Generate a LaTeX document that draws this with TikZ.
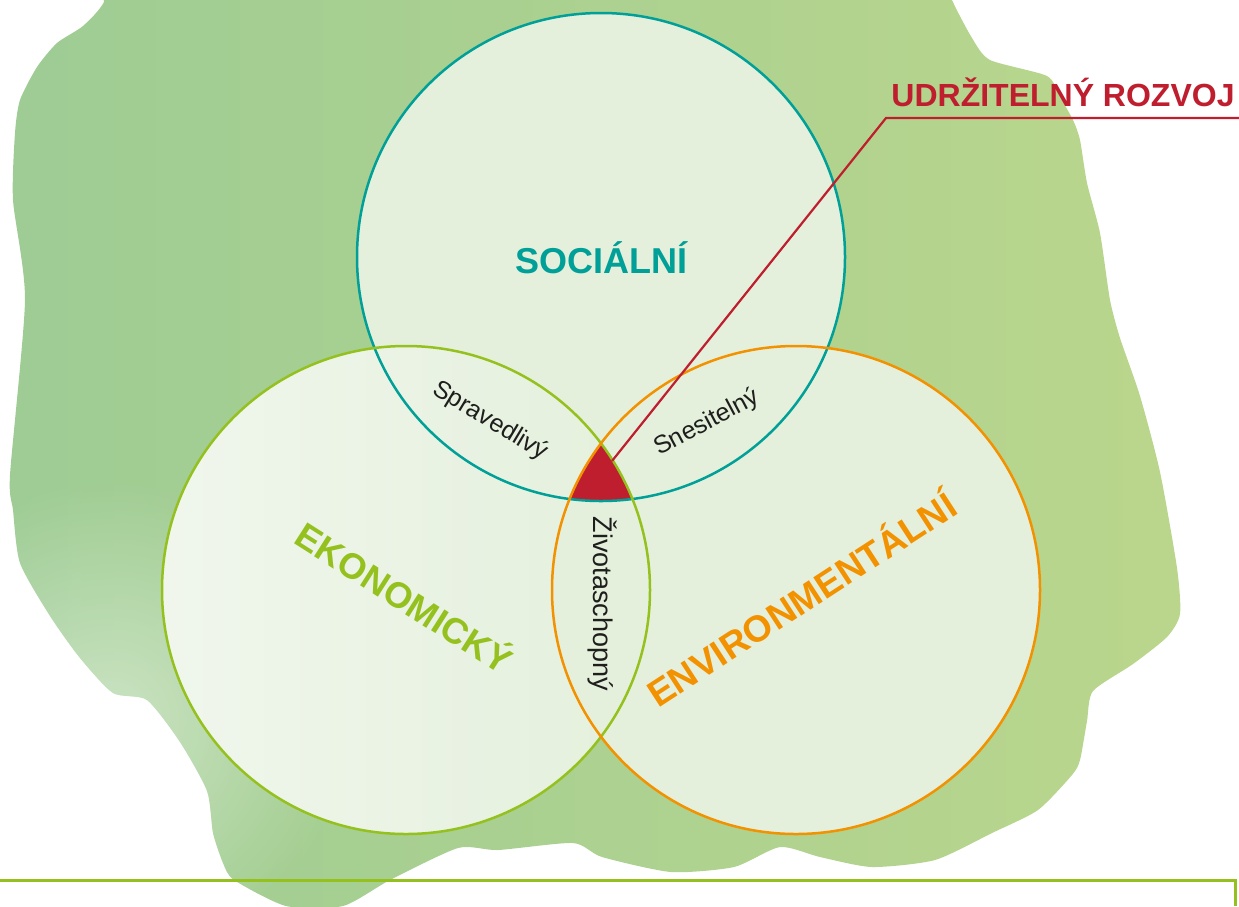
\documentclass[tikz,border=0pt]{standalone}
\usepackage{fontspec}
\setmainfont{Liberation Sans}
\usetikzlibrary{fadings}
\tikzfading[name=softfade, inner color=transparent!0, outer color=transparent!100]
\definecolor{cSoc}{RGB}{0,160,152}
\definecolor{cEko}{RGB}{149,193,31}
\definecolor{cEnv}{RGB}{243,146,0}
\definecolor{cRed}{RGB}{190,30,45}
\definecolor{cFill}{RGB}{228,240,220}
\definecolor{cFillW}{RGB}{240,246,236}
\definecolor{cBlobL}{RGB}{158,204,148}
\definecolor{cBlobR}{RGB}{186,214,140}
\definecolor{cTxt}{RGB}{30,30,28}
\definecolor{cLine}{RGB}{149,193,31}
\tikzset{
  ring/.style={line width=2.5pt},
  biglabel/.style={font=\bfseries\fontsize{#1}{#1}\selectfont, inner sep=0pt},
  smalllabel/.style={font=\fontsize{#1}{#1}\selectfont, text=cTxt, inner sep=0pt},
}
\begin{document}
\begin{tikzpicture}[x=1pt,y=-1pt]
\useasboundingbox (0,0) rectangle (1239,906);
% watercolor blob
\def\blob{plot[smooth cycle, tension=0.4] coordinates {
 (118,-45) (935,-45) (952,0) (972,38) (990,60) (1047,76) (1060,97) (1073,120) (1080,140)
 (1087,183) (1100,233) (1110,300) (1120,338) (1140,396) (1160,472) (1177,568)
 (1180,614) (1167,637) (1133,664) (1093,691) (1087,721) (1080,760) (1072,775)
 (1038,810) (992,833) (935,860) (872,867) (820,857) (780,847) (734,867)
 (671,872) (602,857) (573,843) (498,850) (458,848) (390,880) (343,906)
 (286,906) (234,880) (223,863) (213,833) (207,791) (180,742) (147,700)
 (113,693) (80,658) (50,616) (20,563) (13,510) (10,475) (25,300) (13,200)
 (15,133) (20,100) (37,67) (57,43) (83,26) (104,2)}}
\shade[left color=cBlobL, right color=cBlobR] \blob;
\begin{scope}
  \clip \blob;
  \fill[white, opacity=0.45, path fading=softfade] (110,720) circle (240);
\end{scope}
% circle centres
\coordinate (S) at (601,257);
\coordinate (E) at (406,590);
\coordinate (V) at (796,590);
% fills
\fill[cFill] (S) circle (244);
\shade[left color=cFillW, right color=cFill] (E) circle (244);
\fill[cFill] (V) circle (244);
% sustainable core
\begin{scope}
  \clip (S) circle (244);
  \clip (E) circle (244);
  \fill[cRed] (V) circle (244);
\end{scope}
% rings
\draw[ring, cSoc] (S) circle (244);
\draw[ring, cEko] (E) circle (244);
\draw[ring, cEnv] (V) circle (244);
% leader
\coordinate (tip) at (612,461);
\coordinate (elbow) at (886,118);
\coordinate (lend) at (1239,118);
\draw[cRed, line width=2.2pt] (tip) -- (elbow) -- (lend);
% labels
\node[biglabel=32, text=cRed, anchor=base] (ur) at (1063,106) {UDRŽITELNÝ ROZVOJ};
\node[biglabel=36, text=cSoc, anchor=base] (soc) at (601,273) {SOCIÁLNÍ};
\node[biglabel=36, text=cEko, anchor=base, rotate=-32.5] (eko) at (397,609) {EKONOMICKÝ};
\node[biglabel=37, text=cEnv, anchor=base, rotate=33] (env) at (809,611) {ENVIRONMENTÁLNÍ};
\node[smalllabel=25, rotate=-31] (spr) at (490,421) {Spravedlivý};
\node[smalllabel=25, rotate=28] (sne) at (707,423) {Snesitelný};
\node[smalllabel=27, rotate=-90] (ziv) at (602,604) {Životaschopný};
% bottom frame
\coordinate (fa) at (0,880);
\coordinate (fb) at (1235,880);
\coordinate (fc) at (1235,906);
\draw[cLine, line width=3pt] (fa) -- (fb) -- (fc);
\end{tikzpicture}
\end{document}
